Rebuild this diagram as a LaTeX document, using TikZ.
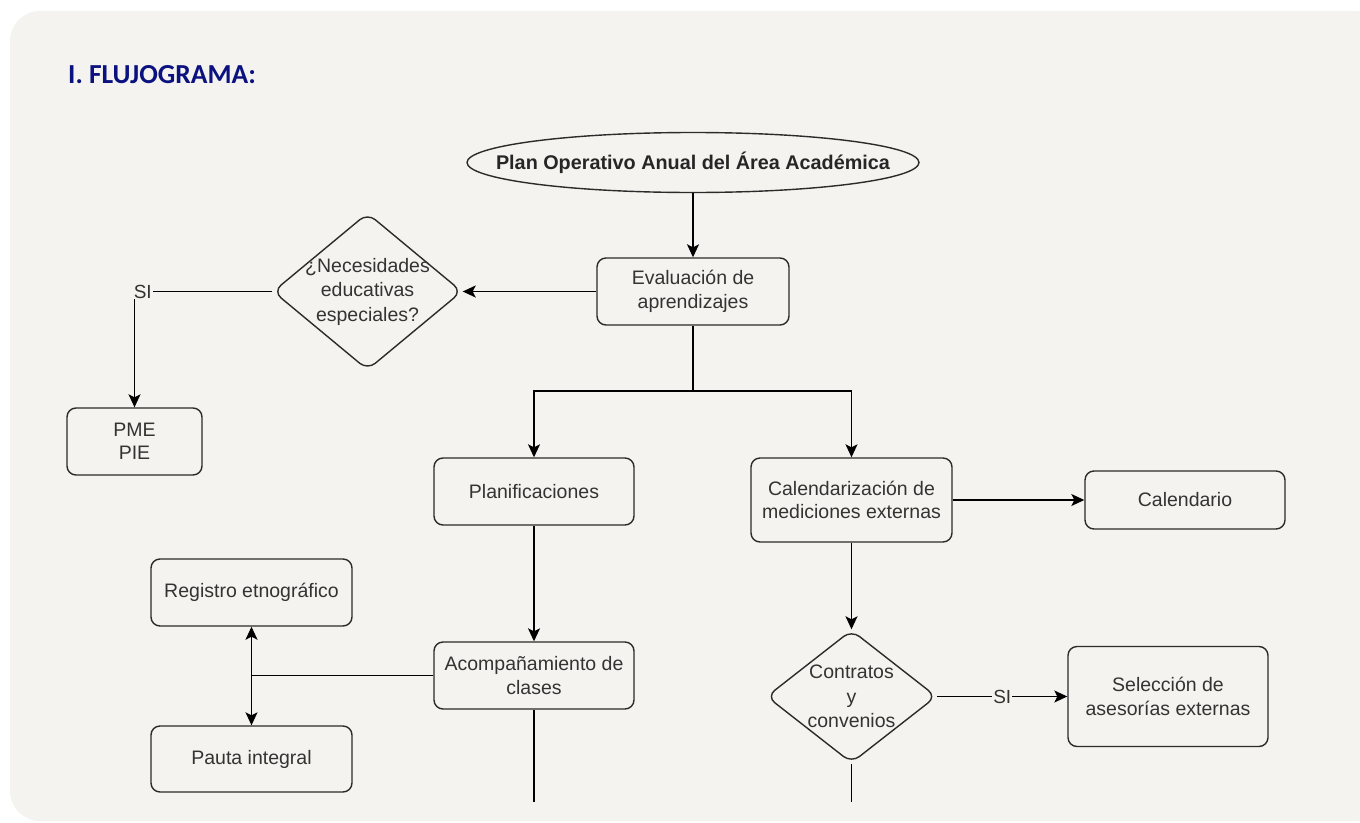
\documentclass[tikz,border=0pt]{standalone}
\usepackage{fontspec}
\setmainfont{Liberation Sans}
\newfontfamily\titlefont{Carlito}
\usetikzlibrary{arrows.meta, shapes.geometric}

\definecolor{bgpanel}{HTML}{F4F3EF}
\definecolor{titleblue}{HTML}{0B1280}
\definecolor{txtgray}{HTML}{333333}
\definecolor{edgegray}{HTML}{2B2B2B}

\begin{document}
\begin{tikzpicture}[
  x=1pt, y=-1pt,
  box/.style={draw=edgegray, line width=1.4pt, rounded corners=9pt, fill=bgpanel,
    align=center, text=txtgray, font=\fontsize{19.5}{23.5}\selectfont,
    inner sep=0pt, minimum width=200pt, minimum height=67pt},
  dec/.style={diamond, draw=edgegray, line width=1.4pt, rounded corners=10pt,
    fill=bgpanel, inner sep=0pt},
  dtxt/.style={align=center, text=txtgray, font=\fontsize{19.5}{24.5}\selectfont, inner sep=0pt},
  lbl/.style={fill=bgpanel, inner sep=1pt, text=txtgray, font=\fontsize{19}{22}\selectfont},
  line/.style={line width=1.4pt, black},
  arr/.style={line, -{Stealth[length=13pt, width=12pt, inset=3pt]}}
]
\useasboundingbox (0,0) rectangle (1360,822);
% panel
\fill[white] (0,0) rectangle (1360,822);
\fill[bgpanel, rounded corners=30pt] (10,11) rectangle (1385,821);

\node[anchor=base west, inner sep=0pt, text=titleblue,
  font=\titlefont\bfseries\fontsize{27.5}{32}\selectfont] (title) at (68,83) {I. FLUJOGRAMA:};

% main column
\node[ellipse, draw=edgegray, line width=1.4pt, fill=bgpanel, inner sep=0pt,
  minimum width=452pt, minimum height=60pt, text=black!85,
  font=\bfseries\fontsize{19.8}{24}\selectfont] (poa) at (693,162.5)
  {\makebox[0pt]{Plan Operativo Anual del Área Académica}};
\node[box, minimum width=192pt] (eval) at (693,291.5) {Evaluación de\\aprendizajes};
\node[dec, minimum width=189pt, minimum height=157pt,
  label={[dtxt]center:{¿Necesidades\\educativas\\especiales?}}] (nee) at (367.5,291.5) {};
\node[box, minimum width=135pt] (pme) at (134.5,441.5) {PME\\PIE};
\coordinate (split) at (693,391);

\node[box] (plani) at (534,491.5) {Planificaciones};
\node[box] (acomp) at (534,675.5) {Acompañamiento de\\clases};
\node[box, minimum width=201pt] (reg) at (251.5,592.5) {Registro etnográfico};
\node[box, minimum width=201pt, minimum height=66pt] (pauta) at (251.5,759) {Pauta integral};
\coordinate (acompEnd) at (534,802);

\node[box, minimum width=201pt, minimum height=84pt] (calz) at (851.5,500) {Calendarización de\\mediciones externas};
\node[box, minimum height=58pt] (calend) at (1185,500) {Calendario};
\node[dec, minimum width=170pt, minimum height=133pt,
  label={[dtxt]center:{Contratos\\y\\convenios}}] (contr) at (851.5,696.5) {};
\node[box, minimum height=100pt] (asesor) at (1168,696.5) {Selección de\\asesorías externas};
\coordinate (contrEnd) at (851.5,802);

\draw[arr] (poa) -- (eval);
\draw[arr] (eval) -- (nee);
\draw[arr] (nee.west) -| node[lbl, pos=0.47] {SI} (pme.north);
\draw[line] (eval) -- (split);
\draw[arr] (split) -| (plani.north);
\draw[arr] (split) -| (calz.north);
\draw[arr] (plani) -- (acomp);
\draw[arr] (acomp.west) -| (reg.south);
\draw[arr] (acomp.west) -| (pauta.north);
\draw[line] (acomp) -- (acompEnd);
\draw[arr] (calz) -- (calend);
\draw[arr] (calz) -- (contr);
\draw[arr] (contr) -- node[lbl] {SI} (asesor);
\draw[line] (contr) -- (contrEnd);
\end{tikzpicture}
\end{document}
